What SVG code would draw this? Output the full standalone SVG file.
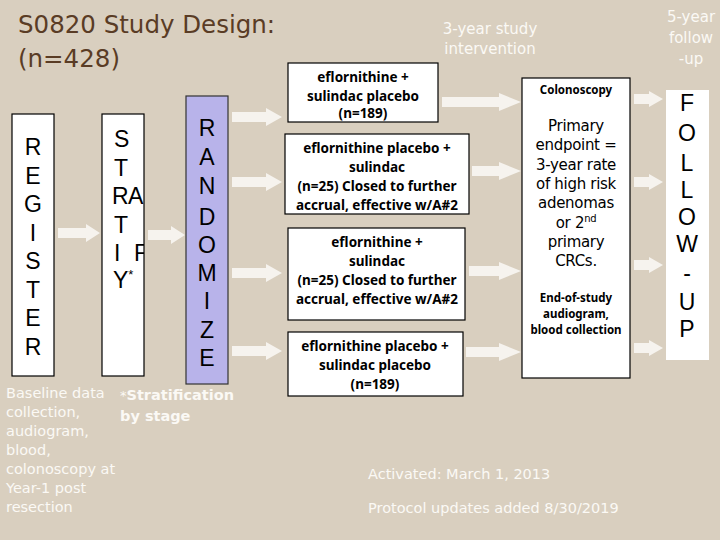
<svg xmlns="http://www.w3.org/2000/svg" width="720" height="540" viewBox="0 0 720 540">
<defs>
<style>
.bg{fill:#d9cfbf}
.box{fill:#ffffff;stroke:#000;stroke-width:1.2}
.rand{fill:#b8b3ea;stroke:#333;stroke-width:1.2}
.arr{fill:#f6f3ee;stroke:none}
.title{font-family:"DejaVu Sans",Verdana,sans-serif;font-size:24.5px;fill:#5a3c25}
.big{font-family:"Liberation Sans",Arial,sans-serif;font-size:23px;fill:#000;text-anchor:middle}
.stl{font-family:"Liberation Sans",Arial,sans-serif;font-size:23px;fill:#000}
.arm{font-family:"Noto Sans","DejaVu Sans",sans-serif;font-weight:bold;font-size:13.5px;fill:#000;text-anchor:middle}
.sm{font-family:"Noto Sans","DejaVu Sans",sans-serif;font-weight:bold;font-size:11.5px;fill:#000;text-anchor:middle}
.ep{font-family:"DejaVu Sans",Verdana,sans-serif;font-size:15px;fill:#000;text-anchor:middle;letter-spacing:-0.3px}
.pale{font-family:"DejaVu Sans",Verdana,sans-serif;font-size:14.5px;fill:#fbf9f5}
.palem{font-family:"DejaVu Sans",Verdana,sans-serif;font-size:15px;fill:#fbf9f5;text-anchor:middle}
.strat{font-family:"DejaVu Sans",Verdana,sans-serif;font-size:14.5px;font-weight:bold;fill:#fbf9f5}
</style>
<clipPath id="clipStrat"><rect x="102" y="114" width="42" height="262"/></clipPath>
</defs>
<rect class="bg" x="0" y="0" width="720" height="540"/>

<g id="title">
<text class="title" x="18" y="33">S0820 Study Design:</text>
<text class="title" x="18" y="67">(n=428)</text>
</g>

<g id="register">
<rect class="box" x="12" y="114" width="42" height="262"/>
<text class="big" x="33" y="155">R</text>
<text class="big" x="33" y="184">E</text>
<text class="big" x="33" y="212">G</text>
<text class="big" x="33" y="241">I</text>
<text class="big" x="33" y="269">S</text>
<text class="big" x="33" y="298">T</text>
<text class="big" x="33" y="326">E</text>
<text class="big" x="33" y="355">R</text>
</g>

<g id="stratify">
<rect class="box" x="102" y="114" width="42" height="262"/>
<g clip-path="url(#clipStrat)">
<text class="stl" x="114" y="147">S</text>
<text class="stl" x="114" y="176">T</text>
<text class="stl" x="112" y="204">R<tspan x="128">A</tspan></text>
<text class="stl" x="114" y="233">T</text>
<text class="stl" x="114" y="261">I<tspan x="134">F</tspan></text>
<text class="stl" x="113" y="288">Y<tspan font-size="13" dy="-9">*</tspan></text>
</g>
</g>

<g id="randomize">
<rect class="rand" x="186" y="96" width="42" height="288"/>
<text class="big" x="207" y="136">R</text>
<text class="big" x="207" y="165">A</text>
<text class="big" x="207" y="194">N</text>
<text class="big" x="207" y="225">D</text>
<text class="big" x="207" y="253">O</text>
<text class="big" x="207" y="281">M</text>
<text class="big" x="207" y="309">I</text>
<text class="big" x="207" y="338">Z</text>
<text class="big" x="207" y="366">E</text>
</g>

<g id="arm1">
<rect class="box" x="288" y="63" width="150" height="59"/>
<text class="arm" x="363" y="82">eflornithine +</text>
<text class="arm" x="363" y="101">sulindac placebo</text>
<text class="arm" x="363" y="118">(n=189)</text>
</g>

<g id="arm2">
<rect class="box" x="285" y="134" width="184" height="80"/>
<text class="arm" x="377" y="153">eflornithine placebo +</text>
<text class="arm" x="377" y="172">sulindac</text>
<text class="arm" x="377" y="191">(n=25) Closed to further</text>
<text class="arm" x="377" y="210">accrual, effective w/A#2</text>
</g>

<g id="arm3">
<rect class="box" x="288" y="228" width="177" height="92"/>
<text class="arm" x="377" y="247">eflornithine +</text>
<text class="arm" x="377" y="266">sulindac</text>
<text class="arm" x="377" y="285">(n=25) Closed to further</text>
<text class="arm" x="377" y="304">accrual, effective w/A#2</text>
</g>

<g id="arm4">
<rect class="box" x="288" y="332" width="175" height="64"/>
<text class="arm" x="375" y="351">eflornithine placebo +</text>
<text class="arm" x="375" y="370">sulindac placebo</text>
<text class="arm" x="375" y="389">(n=189)</text>
</g>

<g id="endpoint">
<rect class="box" x="522" y="78" width="108" height="300"/>
<text class="sm" x="576" y="94">Colonoscopy</text>
<text class="ep" x="576" y="131">Primary</text>
<text class="ep" x="576" y="150">endpoint =</text>
<text class="ep" x="576" y="170">3-year rate</text>
<text class="ep" x="576" y="189">of high risk</text>
<text class="ep" x="576" y="208">adenomas</text>
<text class="ep" x="576" y="228">or 2<tspan font-size="10" dy="-6">nd</tspan></text>
<text class="ep" x="576" y="247">primary</text>
<text class="ep" x="576" y="266">CRCs.</text>
<text class="sm" x="576" y="302">End-of-study</text>
<text class="sm" x="576" y="318">audiogram,</text>
<text class="sm" x="576" y="334">blood collection</text>
</g>

<g id="followup">
<rect x="666" y="90" width="43" height="270" fill="#ffffff"/>
<text class="big" x="687" y="111">F</text>
<text class="big" x="687" y="141">O</text>
<text class="big" x="687" y="171">L</text>
<text class="big" x="687" y="198">L</text>
<text class="big" x="687" y="225">O</text>
<text class="big" x="687" y="252">W</text>
<text class="big" x="687" y="281">-</text>
<text class="big" x="687" y="310">U</text>
<text class="big" x="687" y="337">P</text>
</g>

<g id="connectors">
<polygon class="arr" points="58,228 86,228 86,224 100,233 86,242 86,238 58,238"/>
<polygon class="arr" points="148,230 171,230 171,226 185,235 171,244 171,240 148,240"/>
<polygon class="arr" points="232,112 266,112 266,108 282,117 266,126 266,122 232,122"/>
<polygon class="arr" points="232,177 266,177 266,173 282,182 266,191 266,187 232,187"/>
<polygon class="arr" points="232,268 266,268 266,264 282,273 266,282 266,278 232,278"/>
<polygon class="arr" points="232,346 266,346 266,342 282,351 266,360 266,356 232,356"/>
<polygon class="arr" points="442,97 499,97 499,93 521,102 499,111 499,107 442,107"/>
<polygon class="arr" points="472,166 499,166 499,162 521,171 499,180 499,176 472,176"/>
<polygon class="arr" points="469,266 499,266 499,262 521,271 499,280 499,276 469,276"/>
<polygon class="arr" points="466,347 499,347 499,343 521,352 499,361 499,357 466,357"/>
<polygon class="arr" points="634,94 649,94 649,91 663,99 649,107 649,104 634,104"/>
<polygon class="arr" points="634,177 649,177 649,174 663,182 649,190 649,187 634,187"/>
<polygon class="arr" points="634,260 649,260 649,257 663,265 649,273 649,270 634,270"/>
<polygon class="arr" points="634,343 649,343 649,340 663,348 649,356 649,353 634,353"/>
</g>

<g id="notes">
<text class="palem" x="490" y="34">3-year study</text>
<text class="palem" x="490" y="54">intervention</text>
<text class="palem" x="691" y="22">5-year</text>
<text class="palem" x="691" y="43">follow</text>
<text class="palem" x="691" y="64">-up</text>
<text class="pale" x="6" y="398">Baseline data</text>
<text class="pale" x="6" y="417">collection,</text>
<text class="pale" x="6" y="436">audiogram,</text>
<text class="pale" x="6" y="455">blood,</text>
<text class="pale" x="6" y="474">colonoscopy at</text>
<text class="pale" x="6" y="493">Year-1 post</text>
<text class="pale" x="6" y="512">resection</text>
<text class="strat" x="120" y="400"><tspan font-weight="normal" font-size="13">*</tspan>Stratification</text>
<text class="strat" x="120" y="421">by stage</text>
<text class="pale" x="368" y="479" font-size="15.5">Activated: March 1, 2013</text>
<text class="pale" x="368" y="513" font-size="15.5">Protocol updates added 8/30/2019</text>
</g>
</svg>
